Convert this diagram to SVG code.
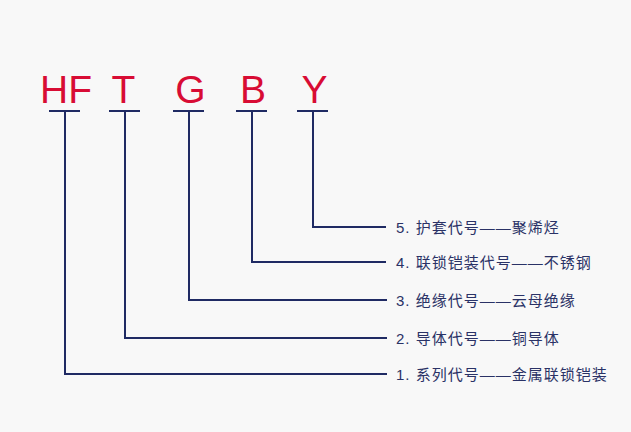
<svg xmlns="http://www.w3.org/2000/svg" width="631" height="432" viewBox="0 0 631 432">
<style>
.code{font-family:"Liberation Sans","Noto Sans",sans-serif;font-size:39px;fill:#d80c34;text-anchor:middle}
.lbl{font-family:"Liberation Sans","Noto Sans CJK SC",sans-serif;font-size:15px;fill:#2a3266;letter-spacing:1px}
.ln{stroke:#1f2a63;stroke-width:2;fill:none}
</style>
<rect width="631" height="432" fill="#f8f8f8"/>
<g id="code-HF"><text class="code" x="66" y="103">HF</text><line class="ln" x1="49" y1="111" x2="80" y2="111"/></g>
<g id="code-T"><text class="code" x="123.5" y="103">T</text><line class="ln" x1="109" y1="111" x2="140" y2="111"/></g>
<g id="code-G"><text class="code" x="190.5" y="103">G</text><line class="ln" x1="173" y1="111" x2="204" y2="111"/></g>
<g id="code-B"><text class="code" x="253" y="103">B</text><line class="ln" x1="236" y1="111" x2="267" y2="111"/></g>
<g id="code-Y"><text class="code" x="314.5" y="103">Y</text><line class="ln" x1="297" y1="111" x2="328" y2="111"/></g>
<g id="connectors">
<polyline class="ln" points="65,111 65,374 387,374"/>
<polyline class="ln" points="125,111 125,338 387,338"/>
<polyline class="ln" points="189,111 189,300 387,300"/>
<polyline class="ln" points="252,111 252,262 386,262"/>
<polyline class="ln" points="313,111 313,227 386,227"/>
</g>
<g id="label-5"><text class="lbl" x="396" y="233">5. 护套代号——聚烯烃</text></g>
<g id="label-4"><text class="lbl" x="396" y="268">4. 联锁铠装代号——不锈钢</text></g>
<g id="label-3"><text class="lbl" x="396" y="306">3. 绝缘代号——云母绝缘</text></g>
<g id="label-2"><text class="lbl" x="396" y="344">2. 导体代号——铜导体</text></g>
<g id="label-1"><text class="lbl" x="396" y="380">1. 系列代号——金属联锁铠装</text></g>
</svg>
